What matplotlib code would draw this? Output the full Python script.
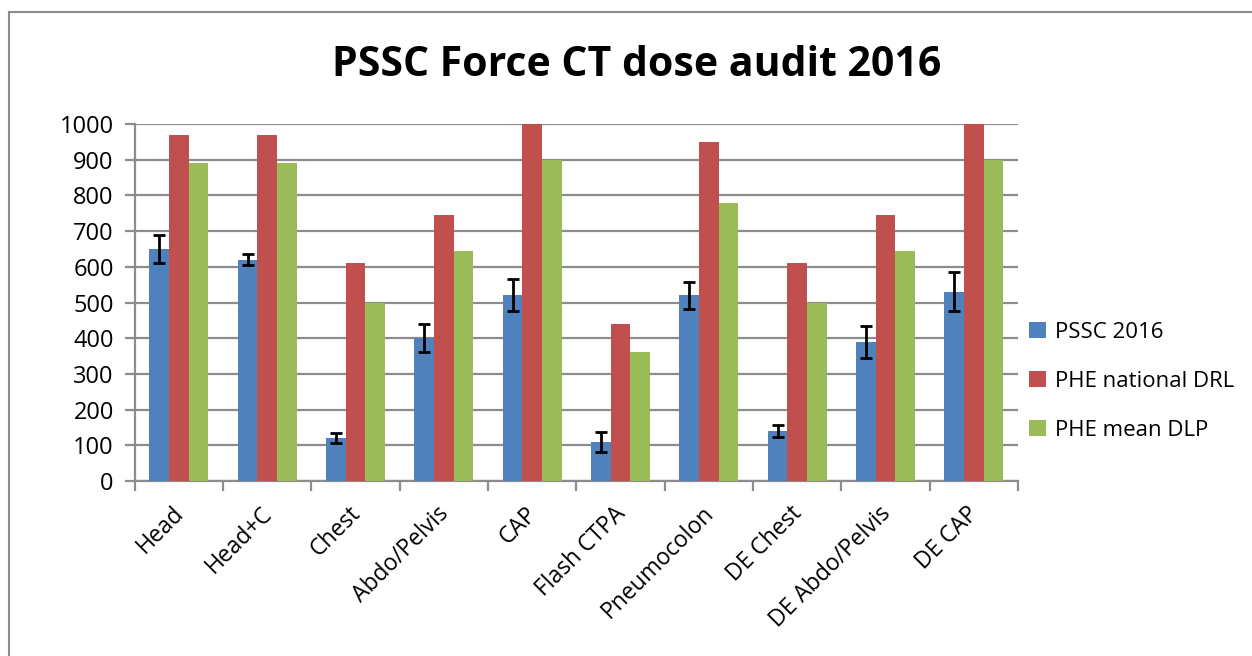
import matplotlib
matplotlib.use("Agg")
import matplotlib.pyplot as plt
import matplotlib.transforms as mtransforms
import numpy as np
from matplotlib.lines import Line2D

categories = ["Head", "Head+C", "Chest", "Abdo/Pelvis", "CAP", "Flash CTPA",
              "Pneumocolon", "DE Chest", "DE Abdo/Pelvis", "DE CAP"]
pssc_2016 = [650, 620, 120, 400, 520, 110, 520, 140, 390, 530]
pssc_err = [40, 15, 14, 40, 45, 28, 38, 16, 45, 55]
phe_drl = [970, 970, 610, 745, 1000, 440, 950, 610, 745, 1000]
phe_mean = [890, 890, 500, 645, 900, 360, 780, 500, 645, 900]
series_names = ["PSSC 2016", "PHE national DRL", "PHE mean DLP"]
yticks = [0, 100, 200, 300, 400, 500, 600, 700, 800, 900, 1000]
title = "PSSC Force CT dose audit 2016"

colors = ["#4F81BD", "#C0504D", "#9BBB59"]
grid_col = "#8C8C8C"

plt.rcParams['font.family'] = ['Open Sans', 'DejaVu Sans']

fig = plt.figure(figsize=(12.52, 6.56), dpi=100)
ax = fig.add_axes([134.7/1252, 1-481/656, (1018-134.7)/1252, (481-124)/656])

n = len(categories)
x = np.arange(n)
w = 1/4.5
offs = [-w, 0, w]
vals = [pssc_2016, phe_drl, phe_mean]
for i in range(3):
    ax.bar(x + offs[i], vals[i], width=w, color=colors[i], label=series_names[i],
           zorder=3, linewidth=0)
ax.errorbar(x + offs[0], pssc_2016, yerr=pssc_err, fmt='none', ecolor='black',
            elinewidth=2, capsize=4.3, capthick=2, zorder=4)

ax.set_xlim(-0.5, n - 0.5)
ax.set_ylim(0, 1000)
ax.set_yticks(yticks)
ax.set_yticklabels([str(t) for t in yticks], fontsize=17)
ax.yaxis.grid(True, color=grid_col, linewidth=1.6, zorder=0)
ax.set_axisbelow(True)

ax.set_xticks(np.arange(n + 1) - 0.5)
ax.set_xticklabels([])
ax.set_xticks(x, minor=True)
ax.set_xticklabels(categories, minor=True, rotation=45, ha='right', va='top',
                   rotation_mode='anchor', fontsize=16.5)
ax.tick_params(axis='x', which='minor', length=0, pad=15)
ax.tick_params(axis='x', which='major', length=7, color=grid_col, width=1.6)
ax.tick_params(axis='y', length=7, color=grid_col, width=1.6, pad=8)
shift = mtransforms.ScaledTranslation(-7/100, 0, fig.dpi_scale_trans)
for lab in ax.get_xticklabels(minor=True):
    lab.set_transform(lab.get_transform() + shift)

for s in ['top', 'right']:
    ax.spines[s].set_visible(False)
for s in ['left', 'bottom']:
    ax.spines[s].set_color(grid_col)
    ax.spines[s].set_linewidth(1.6)

leg = fig.legend(loc='upper left', bbox_to_anchor=(1009/1252, 1-302/656),
                 frameon=False, fontsize=16, handlelength=0.75, handleheight=0.75,
                 handletextpad=0.4, labelspacing=1.25)

fig.text(637/1252, 1-66/656, title, ha='center', va='center', fontsize=29.5,
         fontweight='bold')

fig.add_artist(Line2D([9/1252, 1], [1-12/656, 1-12/656], color='#8C8C8C',
                      linewidth=1.5, transform=fig.transFigure))
fig.add_artist(Line2D([9/1252, 9/1252], [0, 1-12/656], color='#8C8C8C',
                      linewidth=1.5, transform=fig.transFigure))

fig.savefig("out.png", dpi=100)
